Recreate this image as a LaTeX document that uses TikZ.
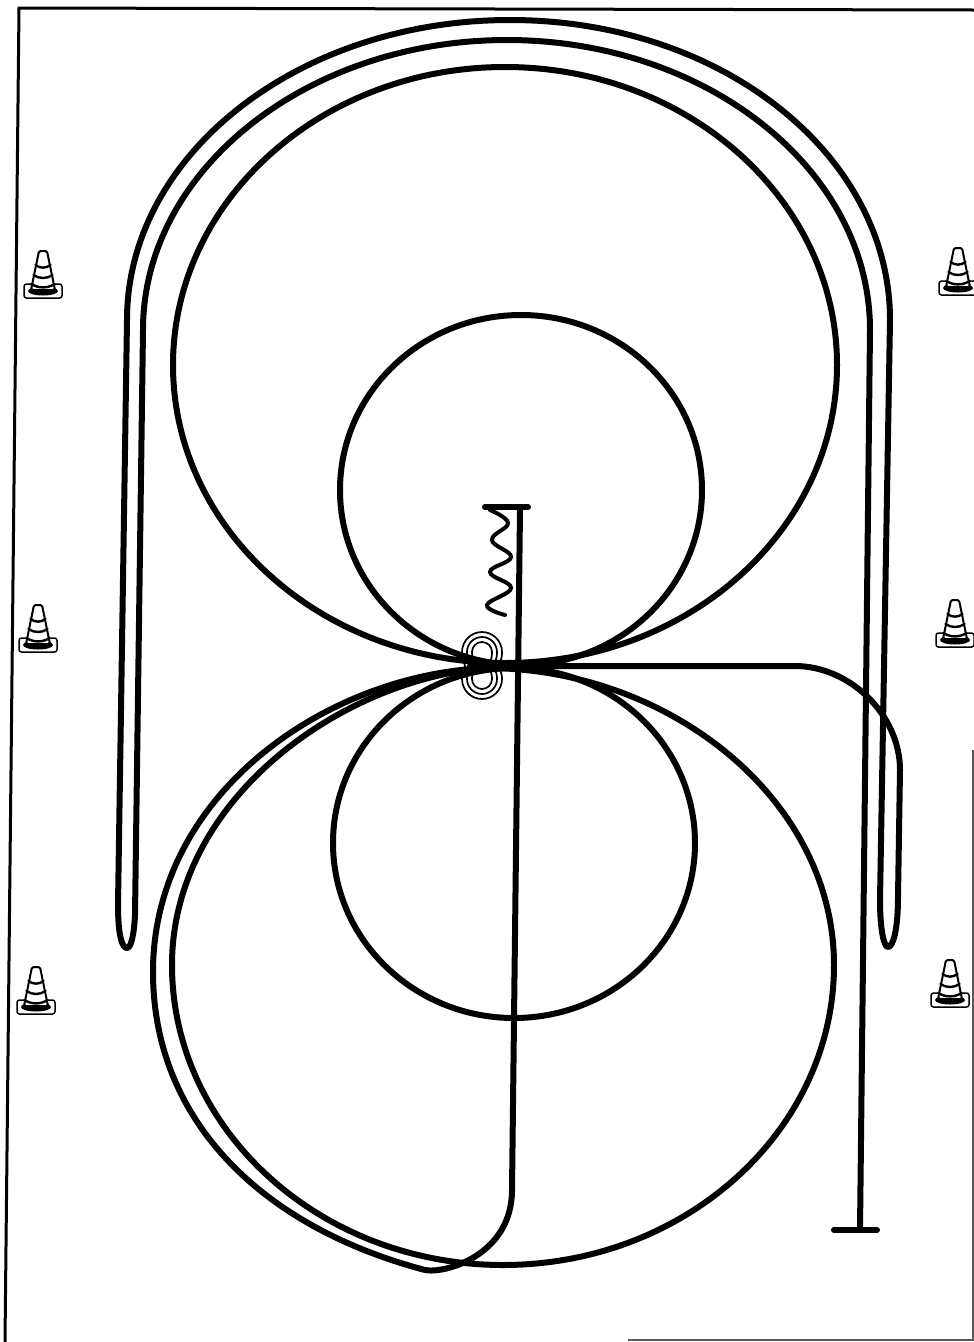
\documentclass[tikz,border=0pt]{standalone}
\usepackage{tikz}
\tikzset{
  track/.style={draw=black,line width=6pt,line cap=round,line join=round},
  ringline/.style={draw=black,line width=1.7pt},
  framing/.style={draw=black,line width=3pt},
  fadeline/.style={draw=black!65,line width=2pt},
  conebase/.style={draw=black,line width=1.5pt,rounded corners=2.5pt,fill=white},
  coneband/.style={draw=black,line width=2.4pt,line cap=round},
  cone/.pic={
    \draw[conebase] (-19,0) -- (-19,-14) -- (19,-14) -- (19,0) -- cycle;
    \fill[black] (0,-7) ellipse [x radius=15,y radius=4.5];
    \draw[black,line width=2pt,fill=white,rounded corners=1.5pt] (-12,-8) -- (-4,-47) -- (4,-47) -- (12,-8) -- cycle;
    \draw[coneband] (-11.5,-14) .. controls (-5,-9.5) and (5,-9.5) .. (11.5,-14);
    \draw[coneband] (-9.5,-23) .. controls (-4,-19) and (4,-19) .. (9.5,-23);
    \draw[coneband] (-7.5,-33) .. controls (-3,-29.5) and (3,-29.5) .. (7.5,-33);
  }
}
\begin{document}
\begin{tikzpicture}[x=1pt,y=-1pt]
\useasboundingbox (0,0) rectangle (974,1342);
% ---- sheet edges ----
\draw[framing] (974,10) -- (19,8) -- (5,1342);
\draw[fadeline] (973,750) -- (973,1340) -- (628,1340);
% ---- cones ----
\pic at (43,298) {cone};
\pic at (38,652) {cone};
\pic at (36,1014) {cone};
\pic at (958,295) {cone};
\pic at (955,647) {cone};
\pic at (950,1007) {cone};
% ---- rings ----
\foreach \r in {10,15,20}{
  \draw[ringline] (482-\r,652) .. controls (482-\r,652-0.55*\r) and (482-0.55*\r,652-\r) .. (482,652-\r)
    .. controls (482+0.55*\r,652-\r) and (482+\r,652-0.55*\r) .. (482+\r,652)
    .. controls (482+\r,661) and (482+\r-3,662) .. (482+\r-3,666)
    .. controls (482+\r-3,670) and (482+\r,671) .. (482+\r,679)
    .. controls (482+\r,679+0.55*\r) and (482+0.55*\r,679+\r) .. (482,679+\r)
    .. controls (482-0.55*\r,679+\r) and (482-\r,679+0.55*\r) .. (482-\r,679)
    .. controls (482-\r,671) and (482-\r+3,670) .. (482-\r+3,666)
    .. controls (482-\r+3,662) and (482-\r,661) .. (482-\r,652) -- cycle;
}
% ---- long hairpins ----
\draw[track] (860,1230) -- (870,330) .. controls (870,170) and (707,40) .. (507,40)
  .. controls (307,40) and (143,170) .. (143,330) -- (135,915)
  .. controls (134,935) and (131,948) .. (127,948)
  .. controls (122,948) and (118,935) .. (118,905) -- (127,320)
  .. controls (127,155) and (298,20) .. (510,20)
  .. controls (722,20) and (890,155) .. (890,320) -- (880,900)
  .. controls (880,930) and (884,947) .. (888,947)
  .. controls (893,947) and (898,930) .. (898,897) -- (900,770)
  .. controls (900,715) and (850,666) .. (795,666) -- (470,666);
\draw[track] (834,1230) -- (877,1230);
% ---- circles ----
\draw[track] (505,365) ellipse [x radius=332,y radius=298];
\draw[track] (521,490) ellipse [x radius=181,y radius=175];
\draw[track] (514,843) ellipse [x radius=181,y radius=175];
\draw[track] (486,668) .. controls (340,680) and (172,800) .. (172,965)
  .. controls (172,1130) and (320,1265) .. (503,1265)
  .. controls (686,1265) and (834,1130) .. (834,965)
  .. controls (834,800) and (670,668) .. (486,668) -- cycle;
% ---- run-out ----
\draw[track] (486,668) .. controls (325,675) and (153,795) .. (153,972)
  .. controls (153,1115) and (255,1225) .. (425,1270)
  .. controls (445,1274) and (512,1255) .. (512,1190) -- (520,510);
\draw[track] (485,507) -- (528,507);
% ---- squiggle ----
\draw[draw=black,line width=4pt,line cap=round] plot[smooth,tension=0.7] coordinates
  {(490,510) (508,523) (492,540) (511,557) (490,572) (511,588) (487,605) (505,615)};
\end{tikzpicture}
\end{document}
